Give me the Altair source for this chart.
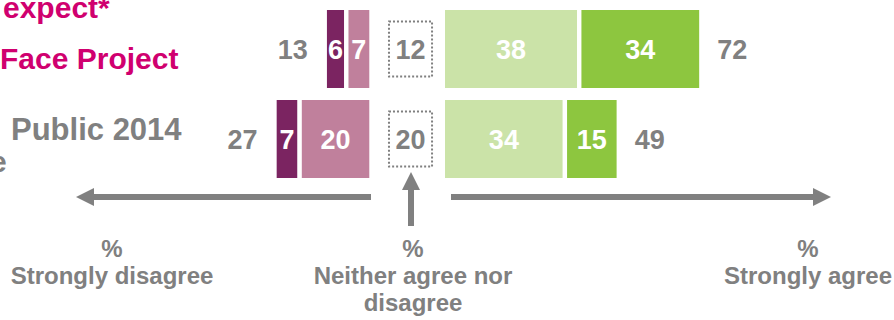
import altair as alt
import pandas as pd

# ---------------- data ----------------
rows = ["Face Project", "Public 2014"]
strongly_disagree = [6, 7]
tend_disagree = [7, 20]
neither = [12, 20]
tend_agree = [38, 34]
strongly_agree = [34, 15]

categories = ["Strongly disagree", "Tend to disagree", "Tend to agree", "Strongly agree"]
cat_colors = ["#7B2461", "#C0809C", "#CBE3A8", "#8DC63F"]

# visible (cropped) row-label fragments
label_fragments = [
    ("expect*", "#D0006F"),
    ("Face Project", "#D0006F"),
    ("Public 2014", "#808080"),
    ("e", "#808080"),
]
bottom_labels = [["%", "Strongly disagree"], ["%", "Neither agree nor", "disagree"], ["%", "Strongly agree"]]

# ---------------- layout constants (percentage units on x) ----------------
X_DOMAIN = [-114.35, 134.68]
DIS_ORIGIN = -10.88
AGR_ORIGIN = 9.01
NEU_HALF = 6.0
FONT = "Liberation Sans"
GRAY = "#808080"

seg = []
neu = []
tot = []
for i, r in enumerate(rows):
    sd, d, n, a, sa = strongly_disagree[i], tend_disagree[i], neither[i], tend_agree[i], strongly_agree[i]
    seg.append(dict(row=r, cat=categories[0], x=DIS_ORIGIN - d - sd, x2=DIS_ORIGIN - d, v=sd))
    seg.append(dict(row=r, cat=categories[1], x=DIS_ORIGIN - d, x2=DIS_ORIGIN, v=d))
    seg.append(dict(row=r, cat=categories[2], x=AGR_ORIGIN, x2=AGR_ORIGIN + a, v=a))
    seg.append(dict(row=r, cat=categories[3], x=AGR_ORIGIN + a, x2=AGR_ORIGIN + a + sa, v=sa))
    neu.append(dict(row=r, x=-NEU_HALF, x2=NEU_HALF, xm=0.0, v=n))
    tot.append(dict(row=r, side="dis", x=DIS_ORIGIN - (sd + d), v=sd + d))
    tot.append(dict(row=r, side="agr", x=AGR_ORIGIN + (a + sa), v=a + sa))

seg_df = pd.DataFrame(seg)
seg_df["xm"] = (seg_df["x"] + seg_df["x2"]) / 2
neu_df = pd.DataFrame(neu)
tot_df = pd.DataFrame(tot)

x_scale = alt.Scale(domain=X_DOMAIN, nice=False, zero=False)
y_enc = alt.Y("row:N", scale=alt.Scale(domain=rows, range=[4, 184], paddingInner=0, paddingOuter=0), axis=None)

bars = alt.Chart(seg_df).mark_bar(height=82.3, stroke="white", strokeWidth=4.3).encode(
    x=alt.X("x:Q", scale=x_scale, axis=None),
    x2="x2:Q",
    y=y_enc,
    color=alt.Color("cat:N", scale=alt.Scale(domain=categories, range=cat_colors), legend=None),
)

bar_text = alt.Chart(seg_df).mark_text(
    color="white", font=FONT, fontSize=27, fontWeight="bold", baseline="middle", dy=2
).encode(x=alt.X("xm:Q", scale=x_scale, axis=None), y=y_enc, text="v:Q")

neu_box = alt.Chart(neu_df).mark_bar(
    height=55, fillOpacity=0, stroke=GRAY, strokeWidth=2, strokeDash=[2, 2]
).encode(x=alt.X("x:Q", scale=x_scale, axis=None), x2="x2:Q", y=y_enc)

neu_text = alt.Chart(neu_df).mark_text(
    color=GRAY, font=FONT, fontSize=27, fontWeight="bold", baseline="middle", dy=2
).encode(x=alt.X("xm:Q", scale=x_scale, axis=None), y=y_enc, text="v:Q")

tot_dis = alt.Chart(tot_df).transform_filter(alt.datum.side == "dis").mark_text(
    color=GRAY, font=FONT, fontSize=27, fontWeight="bold", baseline="middle", align="right", dx=-17, dy=2
).encode(x=alt.X("x:Q", scale=x_scale, axis=None), y=y_enc, text="v:Q")

tot_agr = alt.Chart(tot_df).transform_filter(alt.datum.side == "agr").mark_text(
    color=GRAY, font=FONT, fontSize=27, fontWeight="bold", baseline="middle", align="left", dx=16, dy=2
).encode(x=alt.X("x:Q", scale=x_scale, axis=None), y=y_enc, text="v:Q")

one = pd.DataFrame({"k": [0]})

# arrows
def rule(x1, x2, y1, y2):
    return alt.Chart(one).mark_rule(color=GRAY, strokeWidth=6, strokeCap="butt").encode(
        x=alt.value(x1), x2=alt.value(x2), y=alt.value(y1), y2=alt.value(y2)
    )

def head(x, y, shape):
    return alt.Chart(one).mark_point(shape=shape, size=324, filled=True, color=GRAY, opacity=1, strokeWidth=0).encode(
        x=alt.value(x), y=alt.value(y)
    )

arrows = [
    rule(371, 90, 197, 197),
    head(85, 197, "M -1 0 L 1 -1 L 1 1 Z"),
    rule(451, 815, 197, 197),
    head(822, 197, "M 1 0 L -1 -1 L -1 1 Z"),
    rule(411, 411, 226, 188),
    head(411, 181, "M 0 -1 L 1 1 L -1 1 Z"),
]

# left (cropped) labels
label_pos = [(3, 18, 30), (0, 69, 30), (11, 140, 31), (-10, 172, 30)]
labels = []
for (txt, col), (lx, ly, fs) in zip(label_fragments, label_pos):
    labels.append(
        alt.Chart(one).mark_text(
            text=txt, color=col, font=FONT, fontSize=fs, fontWeight="bold", align="left", baseline="alphabetic"
        ).encode(x=alt.value(lx), y=alt.value(ly))
    )

# bottom labels
bottom_x = [112, 413, 808]
bottoms = []
for txt, bx in zip(bottom_labels, bottom_x):
    bottoms.append(
        alt.Chart(one).mark_text(
            color=GRAY, font=FONT, fontSize=24, fontWeight="bold", align="center",
            baseline="alphabetic", lineHeight=27
        ).encode(x=alt.value(bx), y=alt.value(257), text=alt.value(txt))
    )

chart = alt.layer(
    bars, bar_text, neu_box, neu_text, tot_dis, tot_agr, *arrows, *labels, *bottoms
).properties(
    width=894, height=320, autosize=alt.AutoSizeParams(type="none"), padding=0, background="white"
).configure_view(strokeWidth=0)

chart.save("out.html", embed_options={"renderer": "svg", "actions": False})
